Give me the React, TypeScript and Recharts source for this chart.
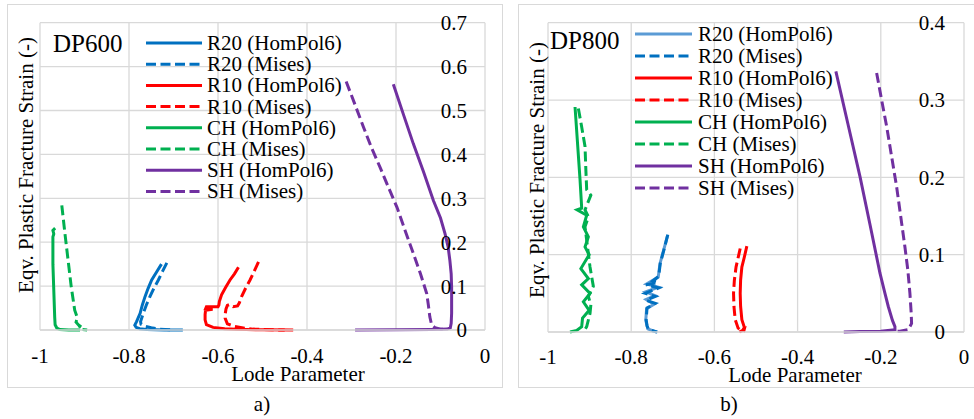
import React from 'react'
import { LineChart, Line, XAxis, YAxis, CartesianGrid } from 'recharts'

type Pt = { x: number; y: number }
const pts = (a: number[][]): Pt[] => a.map(([x, y]) => ({ x, y }))

// shared axis ticks / labels
const xTicks = [-1, -0.8, -0.6, -0.4, -0.2, 0]
const yTicksA = [0, 0.1, 0.2, 0.3, 0.4, 0.5, 0.6, 0.7]
const yTicksB = [0, 0.1, 0.2, 0.3, 0.4]
const seriesNames = [
  'R20 (HomPol6)', 'R20 (Mises)', 'R10 (HomPol6)', 'R10 (Mises)',
  'CH (HomPol6)', 'CH (Mises)', 'SH (HomPol6)', 'SH (Mises)',
]
const dashed = [false, true, false, true, false, true, false, true]
const colorsA = ['#0070C0', '#0070C0', '#FF0000', '#FF0000', '#00B050', '#00B050', '#7030A0', '#7030A0']
const colorsB = ['#5B9BD5', '#0070C0', '#FF0000', '#FF0000', '#00B050', '#00B050', '#7030A0', '#7030A0']

// ---- DP600 (Lode parameter, eqv. plastic fracture strain)
const r20HomA = pts([[-0.727, 0.150], [-0.738, 0.132], [-0.749, 0.114], [-0.757, 0.095], [-0.764, 0.076], [-0.770, 0.057], [-0.775, 0.038], [-0.783, 0.019], [-0.787, 0.011], [-0.784, 0.006], [-0.776, 0.003], [-0.760, 0.001], [-0.720, 0], [-0.679, 0]])
const r20MisesA = pts([[-0.715, 0.153], [-0.725, 0.133], [-0.734, 0.114], [-0.744, 0.095], [-0.753, 0.076], [-0.761, 0.057], [-0.768, 0.038], [-0.774, 0.019], [-0.773, 0.013], [-0.765, 0.009], [-0.750, 0.005], [-0.730, 0.002], [-0.700, 0]])
const r10HomA = pts([[-0.554, 0.143], [-0.563, 0.128], [-0.573, 0.114], [-0.583, 0.097], [-0.592, 0.080], [-0.597, 0.065], [-0.598, 0.057], [-0.600, 0.053], [-0.626, 0.053], [-0.628, 0.048], [-0.612, 0.047], [-0.628, 0.045], [-0.629, 0.035], [-0.629, 0.023], [-0.626, 0.012], [-0.611, 0.006], [-0.585, 0.003], [-0.558, 0.0015], [-0.500, 0.0005], [-0.431, 0]])
const r10MisesA = pts([[-0.509, 0.155], [-0.518, 0.135], [-0.528, 0.114], [-0.538, 0.095], [-0.547, 0.076], [-0.552, 0.062], [-0.556, 0.055], [-0.566, 0.053], [-0.574, 0.058], [-0.579, 0.056], [-0.582, 0.048], [-0.584, 0.035], [-0.584, 0.027], [-0.579, 0.014], [-0.562, 0.008], [-0.540, 0.004], [-0.521, 0.002], [-0.480, 0.0005], [-0.450, 0]])
const chHomA = pts([[-0.966, 0.232], [-0.971, 0.227], [-0.969, 0.219], [-0.971, 0.212], [-0.971, 0.150], [-0.969, 0.090], [-0.967, 0.030], [-0.966, 0.012], [-0.962, 0.004], [-0.955, 0.001], [-0.935, 0], [-0.910, 0]])
const chMisesA = pts([[-0.951, 0.284], [-0.944, 0.220], [-0.937, 0.160], [-0.930, 0.100], [-0.922, 0.045], [-0.916, 0.028], [-0.919, 0.018], [-0.914, 0.012], [-0.910, 0.009], [-0.913, 0.004], [-0.905, 0.001], [-0.894, 0]])
const shHomA = pts([[-0.206, 0.560], [-0.183, 0.490], [-0.161, 0.424], [-0.138, 0.360], [-0.116, 0.295], [-0.100, 0.255], [-0.090, 0.220], [-0.083, 0.190], [-0.079, 0.159], [-0.076, 0.128], [-0.075, 0.098], [-0.075, 0.060], [-0.075, 0.038], [-0.076, 0.015], [-0.078, 0.005], [-0.085, 0.002], [-0.120, 0.001], [-0.200, 0.0005], [-0.292, 0]])
const shMisesA = pts([[-0.312, 0.566], [-0.292, 0.513], [-0.273, 0.462], [-0.255, 0.415], [-0.236, 0.371], [-0.217, 0.325], [-0.198, 0.280], [-0.180, 0.228], [-0.161, 0.174], [-0.145, 0.128], [-0.131, 0.083], [-0.127, 0.055], [-0.124, 0.030], [-0.120, 0.012], [-0.112, 0.005], [-0.100, 0.002], [-0.085, 0.001]])

// ---- DP800
const r20HomB = pts([[-0.713, 0.124], [-0.722, 0.106], [-0.731, 0.088], [-0.735, 0.071], [-0.763, 0.062], [-0.735, 0.058], [-0.765, 0.052], [-0.743, 0.047], [-0.764, 0.042], [-0.745, 0.036], [-0.763, 0.030], [-0.765, 0.015], [-0.760, 0.004], [-0.745, 0.001], [-0.737, 0]])
const r20MisesB = pts([[-0.712, 0.126], [-0.721, 0.107], [-0.730, 0.089], [-0.734, 0.072], [-0.748, 0.066], [-0.736, 0.064], [-0.764, 0.061], [-0.734, 0.057], [-0.766, 0.050], [-0.742, 0.046], [-0.764, 0.041], [-0.742, 0.037], [-0.762, 0.031], [-0.764, 0.016], [-0.762, 0.008], [-0.758, 0.003], [-0.738, 0]])
const r10HomB = pts([[-0.522, 0.111], [-0.528, 0.097], [-0.534, 0.084], [-0.537, 0.067], [-0.538, 0.050], [-0.537, 0.033], [-0.534, 0.016], [-0.528, 0.006], [-0.532, 0.002], [-0.540, 0]])
const r10MisesB = pts([[-0.538, 0.108], [-0.543, 0.096], [-0.548, 0.084], [-0.552, 0.067], [-0.554, 0.050], [-0.553, 0.033], [-0.550, 0.016], [-0.543, 0.005], [-0.535, 0.002], [-0.528, 0.004], [-0.530, 0]])
const chHomB = pts([[-0.935, 0.291], [-0.923, 0.197], [-0.919, 0.160], [-0.930, 0.158], [-0.907, 0.151], [-0.915, 0.136], [-0.903, 0.123], [-0.911, 0.110], [-0.901, 0.100], [-0.921, 0.082], [-0.903, 0.069], [-0.919, 0.061], [-0.899, 0.050], [-0.915, 0.039], [-0.901, 0.028], [-0.917, 0.018], [-0.919, 0.007], [-0.931, 0.002], [-0.947, 0]])
const chMisesB = pts([[-0.927, 0.289], [-0.919, 0.265], [-0.911, 0.240], [-0.909, 0.210], [-0.907, 0.184], [-0.897, 0.177], [-0.911, 0.158], [-0.903, 0.149], [-0.911, 0.136], [-0.905, 0.110], [-0.899, 0.084], [-0.891, 0.059], [-0.903, 0.046], [-0.897, 0.035], [-0.899, 0.024], [-0.907, 0.007], [-0.915, 0]])
const shHomB = pts([[-0.308, 0.337], [-0.279, 0.269], [-0.250, 0.201], [-0.226, 0.139], [-0.202, 0.076], [-0.190, 0.050], [-0.182, 0.033], [-0.172, 0.015], [-0.166, 0.007], [-0.166, 0.003], [-0.200, 0.001], [-0.250, 0.0005], [-0.289, 0]])
const shMisesB = pts([[-0.210, 0.335], [-0.198, 0.300], [-0.186, 0.266], [-0.174, 0.227], [-0.162, 0.188], [-0.152, 0.149], [-0.142, 0.110], [-0.135, 0.080], [-0.130, 0.050], [-0.127, 0.025], [-0.126, 0.011], [-0.134, 0.003], [-0.154, 0.001], [-0.170, 0.0005]])

const seriesA = [r20HomA, r20MisesA, r10HomA, r10MisesA, chHomA, chMisesA, shHomA, shMisesA]
const seriesB = [r20HomB, r20MisesB, r10HomB, r10MisesB, chHomB, chMisesB, shHomB, shMisesB]

const FONT = "'Liberation Serif', 'DejaVu Serif', serif"
const GRID = '#D9D9D9'
const DASH = '10 4.5'
const LW = 3
const txt = { fontFamily: FONT }

interface PanelProps {
  series: Pt[][]
  colors: string[]
  yMax: number
  yTicks: number[]
  left: number
  width: number
  margin: { top: number; right: number; bottom: number; left: number }
  xAxisHeight: number
  xTickMargin: number
  yTickMargin: number
}

function Panel({ series, colors, yMax, yTicks, left, width, margin, xAxisHeight, xTickMargin, yTickMargin }: PanelProps) {
  return (
    <div style={{ position: 'absolute', left, top: 4, fontFamily: FONT }}>
      <LineChart width={width} height={384} margin={margin} style={txt}>
        <CartesianGrid stroke={GRID} strokeWidth={1.3} />
        <XAxis
          type="number"
          dataKey="x"
          domain={[-1, 0]}
          ticks={xTicks}
          height={xAxisHeight}
          axisLine={{ stroke: GRID, strokeWidth: 1.3 }}
          tickLine={false}
          tickSize={0}
          tickMargin={xTickMargin}
          tick={{ fill: '#000', fontSize: 21, style: txt }}
          interval={0}
        />
        <YAxis
          type="number"
          orientation="right"
          mirror
          domain={[0, yMax]}
          ticks={yTicks}
          axisLine={false}
          tickLine={false}
          tickSize={0}
          tickMargin={yTickMargin}
          tick={{ fill: '#000', fontSize: 21, style: txt }}
          interval={0}
        />
        {series.map((d, i) => (
          <Line
            key={seriesNames[i]}
            data={d}
            dataKey="y"
            type="linear"
            stroke={colors[i]}
            strokeWidth={LW}
            strokeDasharray={dashed[i] ? DASH : undefined}
            dot={false}
            activeDot={false}
            isAnimationActive={false}
          />
        ))}
      </LineChart>
    </div>
  )
}

function Legend({ colors, lineX1, lineX2, textX, y0, step }: { colors: string[]; lineX1: number; lineX2: number; textX: number; y0: number; step: number }) {
  return (
    <g>
      {seriesNames.map((name, i) => {
        const cy = y0 + i * step
        return (
          <g key={name}>
            <line x1={lineX1} x2={lineX2} y1={cy} y2={cy} stroke={colors[i]} strokeWidth={LW}
              strokeDasharray={dashed[i] ? DASH : undefined} />
            <text x={textX} y={cy + 7} fontSize={21} style={txt} fill="#000">{name}</text>
          </g>
        )
      })}
    </g>
  )
}

export default function App() {
  return (
    <div style={{ position: 'absolute', left: 0, top: 0, width: 974, height: 419, background: '#fff', overflow: 'hidden', fontFamily: FONT }}>
      <div style={{ position: 'absolute', left: 7, top: 4, width: 496, height: 384, border: `1px solid ${GRID}`, boxSizing: 'border-box' }} />
      <div style={{ position: 'absolute', left: 518, top: 4, width: 470, height: 384, border: `1px solid ${GRID}`, boxSizing: 'border-box' }} />

      <Panel series={seriesA} colors={colorsA} yMax={0.7} yTicks={yTicksA} left={7} width={496}
        margin={{ top: 18.7, right: 18, bottom: 0, left: 33 }} xAxisHeight={58} xTickMargin={18} yTickMargin={18} />
      <Panel series={seriesB} colors={colorsB} yMax={0.4} yTicks={yTicksB} left={518} width={456}
        margin={{ top: 18.7, right: 10, bottom: 0, left: 30 }} xAxisHeight={56} xTickMargin={17} yTickMargin={19} />

      <svg width={974} height={419} style={{ position: 'absolute', left: 0, top: 0, pointerEvents: 'none' }}>
        <text x={53} y={52} fontSize={25} style={txt} fill="#000">DP600</text>
        <text x={550} y={49} fontSize={25} style={txt} fill="#000">DP800</text>
        <text x={33} y={165} fontSize={21} style={txt} fill="#000" textAnchor="middle"
          transform="rotate(-90 33 165)">Eqv. Plastic Fracture Strain (-)</text>
        <text x={544} y={170} fontSize={21} style={txt} fill="#000" textAnchor="middle"
          transform="rotate(-90 544 170)">Eqv. Plastic Fracture Strain (-)</text>
        <text x={298} y={381} fontSize={21} style={txt} fill="#000" textAnchor="middle">Lode Parameter</text>
        <text x={795} y={382} fontSize={21} style={txt} fill="#000" textAnchor="middle">Lode Parameter</text>
        <text x={262} y={411} fontSize={21} style={txt} fill="#000" textAnchor="middle">a)</text>
        <text x={729} y={411} fontSize={21} style={txt} fill="#000" textAnchor="middle">b)</text>
        <Legend colors={colorsA} lineX1={146} lineX2={202} textX={207} y0={43} step={21.2} />
        <Legend colors={colorsB} lineX1={635} lineX2={692} textX={698} y0={34} step={22} />
      </svg>
    </div>
  )
}
